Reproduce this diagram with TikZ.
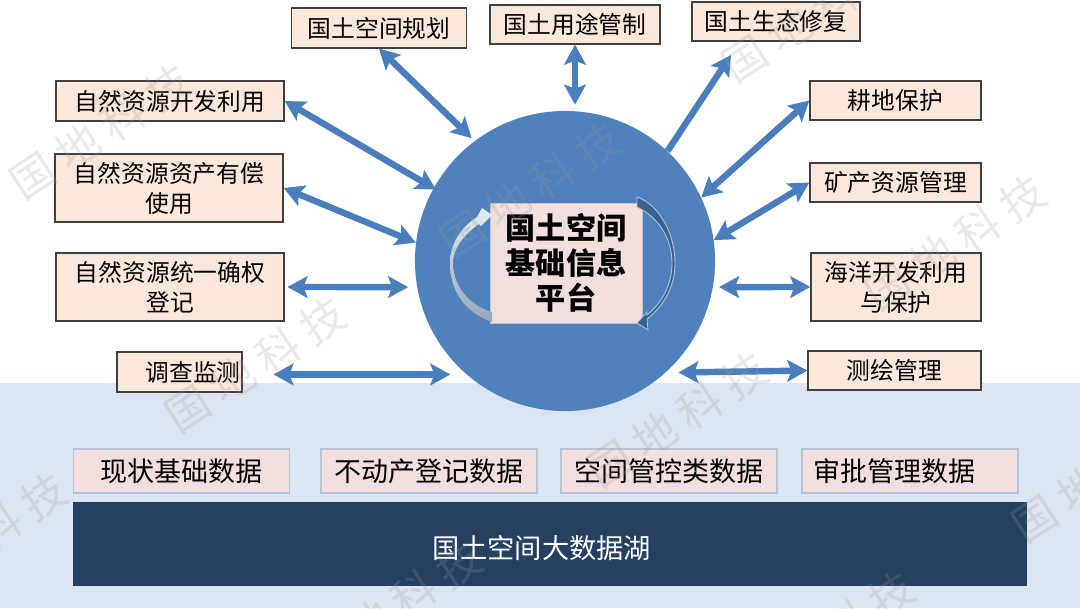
\documentclass[tikz,border=0pt]{standalone}
\usepackage{fontspec}
\setmainfont{Noto Sans CJK SC}
\usetikzlibrary{arrows.meta,calc}
\definecolor{hubblue}{HTML}{4F81BD}
\definecolor{arrowblue}{HTML}{4A7EBC}
\definecolor{boxpeach}{HTML}{FBE8DB}
\definecolor{boxpink}{HTML}{F2DEDD}
\definecolor{bandblue}{HTML}{DBE4F1}
\definecolor{lakenavy}{HTML}{254061}
\definecolor{dataedge}{HTML}{B5C2DA}
\begin{document}
\begin{tikzpicture}[x=0.025cm,y=-0.025cm]
        \clip (0,0) rectangle (1080,608);
        \tikzstyle{bandbox} = [rectangle,fill=bandblue,inner sep=0]
        \tikzstyle{hubdisc} = [circle,fill=hubblue,inner sep=0,minimum size=7.5cm]
        \tikzstyle{corebox} = [rectangle,fill=boxpink,draw=boxpink!70!hubblue,line width=0.5pt,inner sep=0,align=center,font=\fontsize{21.4pt}{25pt}\selectfont\bfseries]
        \tikzstyle{taskbox} = [rectangle,fill=boxpeach,draw=black!75,line width=0.9pt,inner sep=0,align=center,font=\fontsize{16.9pt}{21.4pt}\selectfont]
        \tikzstyle{databox} = [rectangle,fill=boxpink,draw=dataedge,line width=0.9pt,inner sep=0,minimum width=5.4cm,minimum height=1.1cm,font=\fontsize{19.2pt}{23pt}\selectfont]
        \tikzstyle{lakebox} = [rectangle,fill=lakenavy,inner sep=0,text=white,text height=0.79cm,font=\fontsize{19.4pt}{23pt}\selectfont]
        \tikzstyle{twoway} = [{Stealth[length=0.5cm,width=0.54cm,inset=0.1cm]}-{Stealth[length=0.5cm,width=0.54cm,inset=0.1cm]},arrowblue,line width=0.16cm]
        \tikzstyle{oneway} = [-{Stealth[length=0.5cm,width=0.54cm,inset=0.1cm]},arrowblue,line width=0.16cm]
        \tikzstyle{stamp} = [inner sep=0,text=black!40,opacity=0.22,rotate=33,font=\fontsize{31pt}{34pt}\selectfont]

        \node[bandbox,minimum width=27cm,minimum height=5.625cm] (band) at (540,495.5) {};
        \node[hubdisc] (hub) at (565,261) {};
        \node[corebox,minimum width=3.8cm,minimum height=3cm] (core) at (566,263) {国土空间\\基础信息\\平台};

        \node[taskbox,minimum width=4.375cm,minimum height=1cm] (plan) at (379,28) {国土空间规划};
        \node[taskbox,minimum width=4.25cm,minimum height=0.975cm] (landuse) at (575,24.5) {国土用途管制};
        \node[taskbox,minimum width=4.2cm,minimum height=0.975cm] (ecology) at (776,21.5) {国土生态修复};
        \node[taskbox,minimum width=5.7cm,minimum height=1cm] (exploit) at (170,101) {自然资源开发利用};
        \node[taskbox,minimum width=5.7cm,minimum height=1.7cm] (assets) at (169,188) {自然资源资产有偿\\使用};
        \node[taskbox,minimum width=5.7cm,minimum height=1.7cm] (register) at (170,287) {自然资源统一确权\\登记};
        \node[taskbox,minimum width=3.125cm,minimum height=1cm] (survey) at (179.5,372) {\hspace{0.675cm}调查监测};
        \node[taskbox,minimum width=4.275cm,minimum height=0.975cm] (farm) at (895.5,100.5) {耕地保护};
        \node[taskbox,minimum width=4.275cm,minimum height=0.975cm] (mineral) at (895.5,182.5) {矿产资源管理};
        \node[taskbox,minimum width=4.25cm,minimum height=1.7cm] (ocean) at (896,287) {海洋开发利用\\与保护};
        \node[taskbox,minimum width=4.325cm,minimum height=0.975cm] (mapping) at (894.5,370.5) {测绘管理};

        \node[databox] (status) at (181.5,471) {现状基础数据};
        \node[databox] (estate) at (429,471) {不动产登记数据};
        \node[databox] (control) at (669,471) {空间管控类数据};
        \node[databox] (approve) at (910,471) {审批管理数据\hspace{0.8cm}\hbox{}};
        \node[lakebox,minimum width=23.85cm,minimum height=2.1cm] (lake) at (550,544) {国土空间大数据湖\hspace{0.4cm}\hbox{}};

        \coordinate (ecotip) at (731,55);
        \draw[twoway,shorten >=0.1cm] (plan.south) to (hub.127);
        \draw[twoway,shorten >=0.15cm] (landuse.south) to (landuse.south |- hub.north);
        \draw[oneway] (hub.47) to (ecotip);
        \draw[twoway,shorten >=-0.07cm] (exploit.east) to (hub.151);
        \draw[twoway] (assets.east) to (hub.173);
        \draw[twoway,shorten <=0.07cm,shorten >=0.22cm] (register.east) to (hub.190);
        \draw[twoway,shorten <=0.77cm,shorten >=0.4cm] (survey.east |- hub.229) to (hub.229);
        \draw[twoway] (farm.west) to (hub.25);
        \draw[twoway] (mineral.west) to (hub.8);
        \draw[twoway,shorten >=0.15cm] (ocean.west) to (hub.350);
        \draw[twoway,shorten >=0.32cm] (mapping.west) to (hub.312);

        \shade[top color=white!85!hubblue,bottom color=gray!60!hubblue!70] (492,322) .. controls (464,312) and (450,290) .. (450,263) .. controls (450,245) and (460,228) .. (477,217) -- (482,208) -- (492,215) -- (481,226) -- (479,224) .. controls (462,236) and (453,250) .. (453,263) .. controls (453,285) and (468,305) .. (492,312) -- cycle;
        \fill[hubblue!75!black,draw=hubblue!45!white,line width=0.6pt] (637,197) .. controls (660,205) and (675,235) .. (675,263) .. controls (675,285) and (665,305) .. (647,319) -- (648,330) -- (637,323) -- (647,312) -- (647,315) .. controls (662,303) and (672,285) .. (672,263) .. controls (672,240) and (660,218) .. (637,207) -- cycle;

        \node[stamp] (stampa) at (100,132) {国\hspace{0.25cm}地\hspace{0.25cm}科\hspace{0.25cm}技};
        \node[stamp] (stampb) at (530,190) {国\hspace{0.25cm}地\hspace{0.25cm}科\hspace{0.25cm}技};
        \node[stamp] (stampc) at (955,243) {国\hspace{0.25cm}地\hspace{0.25cm}科\hspace{0.25cm}技};
        \node[stamp] (stampd) at (255,365) {国\hspace{0.25cm}地\hspace{0.25cm}科\hspace{0.25cm}技};
        \node[stamp] (stampe) at (677,420) {国\hspace{0.25cm}地\hspace{0.25cm}科\hspace{0.25cm}技};
        \node[stamp] (stampf) at (-24,540) {国\hspace{0.25cm}地\hspace{0.25cm}科\hspace{0.25cm}技};
        \node[stamp] (stampg) at (1102,475) {国\hspace{0.25cm}地\hspace{0.25cm}科\hspace{0.25cm}技};
        \node[stamp] (stamph) at (391,608) {国\hspace{0.25cm}地\hspace{0.25cm}科\hspace{0.25cm}技};
        \node[stamp] (stampi) at (812,15) {国\hspace{0.25cm}地\hspace{0.25cm}科\hspace{0.25cm}技};
        \node[stamp] (stampj) at (824,638) {国\hspace{0.25cm}地\hspace{0.25cm}科\hspace{0.25cm}技};
      \end{tikzpicture}
\end{document}
